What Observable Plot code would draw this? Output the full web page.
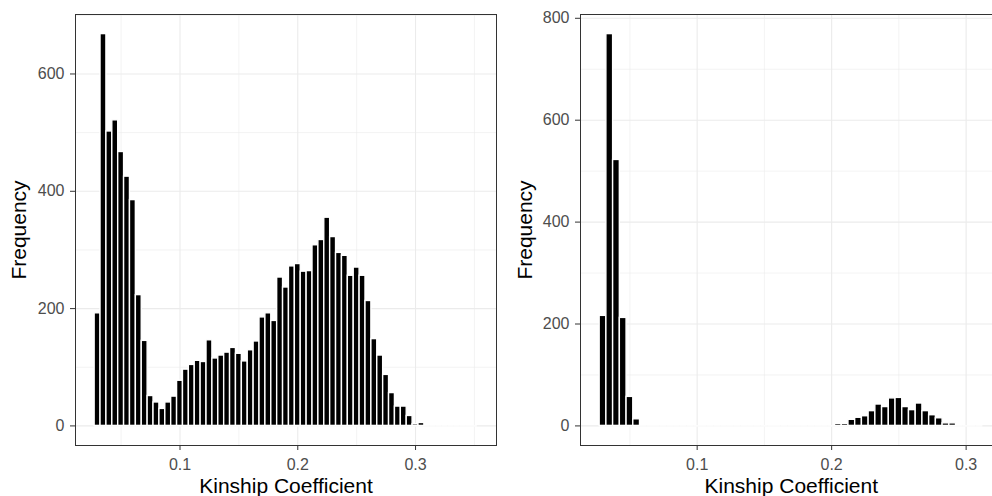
<!DOCTYPE html>
<html><head><meta charset="utf-8">
<script src="https://cdn.jsdelivr.net/npm/d3@7"></script>
<script src="https://cdn.jsdelivr.net/npm/@observablehq/plot@0.6"></script>
<style>
html,body{margin:0;padding:0;background:#fff;}
#wrap{display:flex;width:992px;height:496px;overflow:hidden;}
#wrap svg{flex:0 0 auto;display:block;}
</style></head><body><div id="wrap"></div>
<script>
const binWidth = 0.005;
const binStart = 0.0275;
// left histogram: bins centred 0.030 ... 0.350
const leftCounts = [192,668,502,521,467,425,385,223,145,51,40,29,40,50,77,96,104,111,109,146,115,120,125,133,123,110,129,144,185,192,179,253,236,272,276,263,264,308,317,355,322,295,290,256,270,256,213,148,120,87,56,33,33,17,3,5,0,0,0,0,0,0,0,0,0];
// right histogram: bins centred 0.030 ... 0.310
const rightCounts = [216,769,522,212,57,13,0,0,0,0,0,0,0,0,0,0,0,0,0,0,0,0,0,0,0,0,0,0,0,0,0,0,0,0,0,4,4,12,16,19,29,42,37,54,55,37,31,44,29,21,15,5,5,0,0,0,0];
const xTicks = [0.1, 0.2, 0.3];
const xMinor = [0.05, 0.15, 0.25, 0.35];
const leftYTicks = [0, 200, 400, 600];
const leftYMinor = [100, 300, 500, 700];
const rightYTicks = [0, 200, 400, 600, 800];
const rightYMinor = [100, 300, 500, 700];
const xTitle = "Kinship Coefficient";
const yTitle = "Frequency";

function bins(counts) {
  return counts.map((c, i) => ({x1: binStart + i * binWidth, x2: binStart + (i + 1) * binWidth, count: c}));
}

function panel(counts, {width, marginLeft, marginRight, yTicks, yMinor, titleDx}) {
  const data = bins(counts);
  const lo = data[0].x1, hi = data[data.length - 1].x2;
  const pad = 0.05 * (hi - lo);
  const ymax = d3.max(counts);
  return Plot.plot({
    width, height: 496, marginTop: 14, marginBottom: 51, marginLeft, marginRight,
    style: {fontFamily: "'Liberation Sans', Arial, sans-serif", background: "white"},
    x: {domain: [lo - pad, hi + pad]},
    y: {domain: [-0.05 * ymax, 1.05 * ymax]},
    marks: [
      Plot.gridX(xMinor, {stroke: "#EBEBEB", strokeOpacity: 1, strokeWidth: 0.6}),
      Plot.gridY(yMinor, {stroke: "#EBEBEB", strokeOpacity: 1, strokeWidth: 0.6}),
      Plot.gridX(xTicks, {stroke: "#EBEBEB", strokeOpacity: 1, strokeWidth: 1.1}),
      Plot.gridY(yTicks, {stroke: "#EBEBEB", strokeOpacity: 1, strokeWidth: 1.1}),
      Plot.ruleY(data, {x1: "x1", x2: "x2", y: d => 0, stroke: "white", strokeWidth: 1.4}),
      Plot.rect(data.filter(d => d.count > 0), {x1: "x1", x2: "x2", y1: d => 0, y2: "count", fill: "black", stroke: "white", strokeWidth: 1.4}),
      Plot.frame({stroke: "#333333", strokeWidth: 1}),
      Plot.axisX(xTicks, {tickSize: 5, tickPadding: 8, fontSize: 16, stroke: "#333333", fill: "#4D4D4D", label: null, tickFormat: d => String(d)}),
      Plot.axisY(yTicks, {tickSize: 5, tickPadding: 6, fontSize: 16, stroke: "#333333", fill: "#4D4D4D", label: null}),
      Plot.text([xTitle], {frameAnchor: "bottom", lineAnchor: "bottom", dy: 47, fontSize: 21, fill: "black"}),
      Plot.text([yTitle], {frameAnchor: "left", textAnchor: "middle", rotate: -90, dx: titleDx, fontSize: 21, fill: "black"})
    ]
  });
}

const wrap = document.getElementById("wrap");
wrap.appendChild(panel(leftCounts, {width: 500, marginLeft: 75, marginRight: 4, yTicks: leftYTicks, yMinor: leftYMinor, titleDx: -56}));
wrap.appendChild(panel(rightCounts, {width: 510, marginLeft: 80, marginRight: 8.4, yTicks: rightYTicks, yMinor: rightYMinor, titleDx: -55}));
</script>
</body></html>
